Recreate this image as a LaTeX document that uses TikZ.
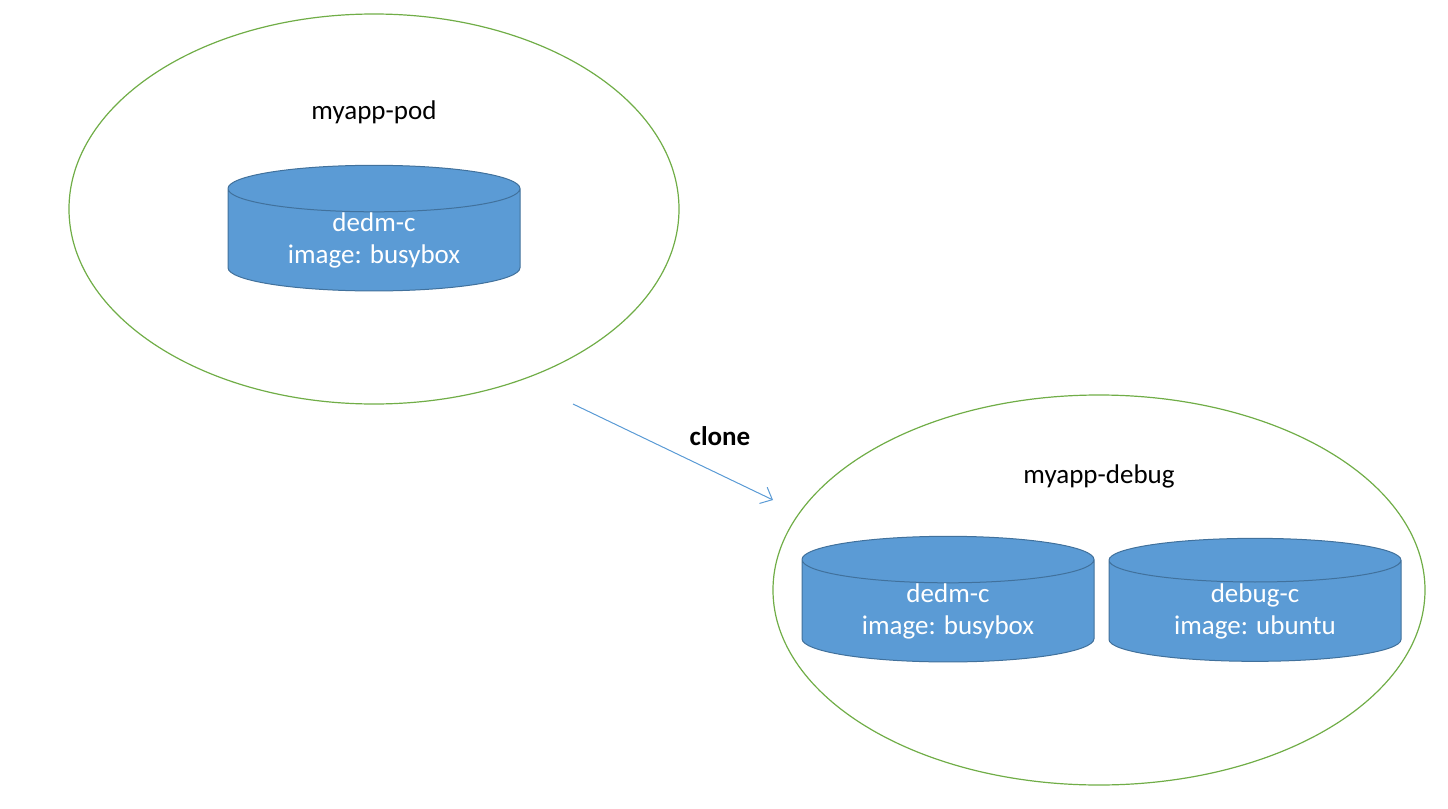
\documentclass[tikz,border=0pt]{standalone}
\usepackage{fontspec}
\setmainfont{Carlito}
\usetikzlibrary{shapes.geometric,arrows.meta,positioning}
\definecolor{podgreen}{HTML}{70AD47}
\definecolor{boxblue}{HTML}{5B9BD5}
\definecolor{boxedge}{HTML}{41719C}

\begin{document}
\begin{tikzpicture}[x=0.5pt,y=-0.5pt,
  pod/.style={ellipse,draw=podgreen,line width=0.6pt,inner sep=0pt},
  container/.style={cylinder,shape border rotate=90,aspect=0.27,draw=boxedge,
    fill=boxblue,line width=0.5pt,minimum width=146pt,minimum height=61.5pt,
    text=white,align=center,font=\fontsize{13.5}{16}\selectfont,inner sep=0pt},
  title/.style={font=\fontsize{13.5}{16}\selectfont}]
\useasboundingbox (0,0) rectangle (1448,809);
\node[pod,minimum width=305pt,minimum height=195pt] (pod) at (374,209) {};
\node[pod,minimum width=326pt,minimum height=195pt] (debug) at (1099,590) {};
\node[title] (podname) at (374,112) {myapp-pod};
\node[title] (debugname) at (1099,476) {myapp-debug};
\node[container] (c1) at (374,240) {dedm-c\\image: busybox};
\node[container] (c2) at (948,611) {dedm-c\\image: busybox};
\node[container] (c3) at (1255,611) {debug-c\\image: ubuntu};
\coordinate (from) at (573,404);
\coordinate (to) at (773,500);
\draw[boxblue,line width=0.5pt,-{Straight Barb[length=5pt,width=9pt]}] (from) -- (to);
\node[title,font=\fontsize{13.5}{16}\selectfont\bfseries] (clone) at (720,436) {clone};
\end{tikzpicture}
\end{document}
